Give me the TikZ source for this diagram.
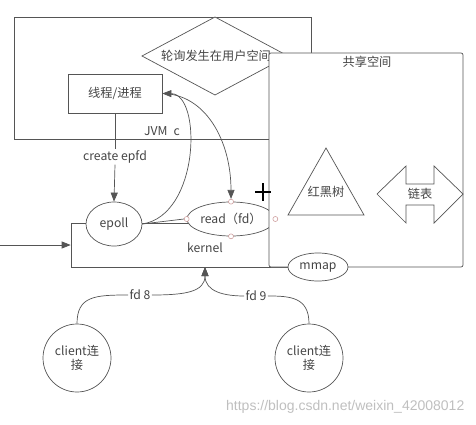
\documentclass[tikz,border=0pt]{standalone}
\usepackage{fontspec}
\setmainfont{Noto Sans CJK SC}
\newfontfamily\wmfont{Liberation Sans}
\usetikzlibrary{shapes.geometric,arrows.meta}
\definecolor{lc}{HTML}{555555}
\definecolor{tc}{HTML}{454545}
\definecolor{pc}{HTML}{C89090}
\begin{document}
\begin{tikzpicture}[x=1pt,y=-1pt,line width=0.7pt,
  every node/.style={font=\fontsize{12.2}{14}\selectfont, text=tc},
  box/.style={draw=lc, fill=white, rectangle, inner sep=0pt},
  ell/.style={draw=lc, fill=white, ellipse, inner sep=0pt},
  cli/.style={draw=lc, fill=white, circle, minimum size=68pt, inner sep=0pt, align=center},
  cpt/.style={circle, draw=pc, fill=white, minimum size=5pt, inner sep=0pt, line width=0.5pt},
  lbl/.style={fill=white, inner sep=1pt},
  arr/.style={-{Triangle[length=9pt,width=7pt]}},
  ln/.style={draw=lc}]
\useasboundingbox (0,0) rectangle (476,425);
% JVM box
\draw[ln] (14,17) rectangle (311,139);
\node (jvm) at (162,131) {JVM\enspace c};
% diamond
\draw[ln, fill=white] (142,56) -- (215,17) -- (288,56) -- (215,95) -- cycle;
\node (poll) at (216,56) {轮询发生在用户空间};
% thread box
\node[box, minimum width=94pt, minimum height=39pt] (thread) at (115,93.5) {线程/进程};
% kernel box
\node[box, fill=none, minimum width=229pt, minimum height=44pt] (kernel) at (185.5,245) {};
\node (kernellbl) at (205,248) {kernel};
\node[ell, minimum width=56pt, minimum height=44pt] (epoll) at (114,224) {epoll};
\node[ell, minimum width=88pt, minimum height=34pt] (read) at (231,219) {read（fd）};
% shared space
\node[box, rounded corners=2pt, minimum width=194pt, minimum height=214pt] (shared) at (366,160) {};
\node (sharedlbl) at (367,62) {共享空间};
\draw[ln] (326,148) -- (364,215) -- (288,215) -- cycle;
\node (rbt) at (326,192) {红黑树};
\draw[ln] (377,194) -- (406,166) -- (406,184) -- (434,184) -- (434,166) -- (463,194)
  -- (434,223) -- (434,205) -- (406,205) -- (406,223) -- cycle;
\node (list) at (420,194) {链表};
\node[ell, minimum width=60pt, minimum height=28pt] (mmap) at (318,267) {mmap};
% connection points
\node[cpt] (pt) at (read.north) {};
\node[cpt] (pb) at (read.south) {};
\node[cpt] (pl) at (read.west) {};
\node[cpt] (pr) at (read.east) {};
% cursor mark
\draw[black, line width=1.2pt] (255,192) -- (271,192) (263,183) -- (263,201);
% connectors
\node[lbl] (cef) at (115,157) {create epfd};
\draw[ln] (thread.south) -- (cef.north);
\draw[ln, arr] (cef.south) -- (epoll.north);
\draw[ln, arr] (epoll.east) .. controls (200,215) and (202,94) .. (thread.east);
\draw[ln, arr] (thread.east) .. controls (205,94) and (231,140) .. (pt.north);
\draw[ln] (epoll.east) -- (pl.west);
\coordinate (src) at (0,245);
\draw[ln, arr] (src) -- (kernel.west);
% clients
\node[cli] (c1) at (77,358) {client连\\接};
\node[cli] (c2) at (309,358) {client连\\接};
\coordinate (tip) at (205,267);
\node[lbl] (fd8) at (140,295) {fd 8};
\node[lbl] (fd9) at (256,296) {fd 9};
\draw[ln] (c1.north) .. controls (77,296) and (95,295) .. (fd8.west);
\draw[ln, arr] (fd8.east) .. controls (185,295) and (205,292) .. (tip);
\draw[ln] (c2.north) .. controls (309,297) and (290,296) .. (fd9.east);
\draw[ln, arr] (fd9.west) .. controls (225,296) and (205,292) .. (tip);
% watermark
\node[anchor=east, font=\wmfont\fontsize{14}{16}\selectfont, text=black!25] (wm) at (468,407) {https://blog.csdn.net/weixin\_42008012};
\end{tikzpicture}
\end{document}
